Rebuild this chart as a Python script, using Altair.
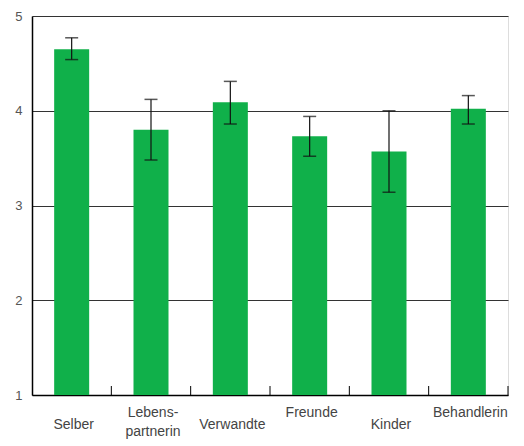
import altair as alt
import pandas as pd

categories = ["Selber", "Lebens-partnerin", "Verwandte", "Freunde", "Kinder", "Behandlerin"]
labels = ["Selber", "Lebens-\npartnerin", "Verwandte", "Freunde", "Kinder", "Behandlerin"]
upper_row = ["Lebens-partnerin", "Freunde", "Behandlerin"]
means = [4.65, 3.80, 4.09, 3.73, 3.57, 4.02]
lower = [4.54, 3.48, 3.86, 3.52, 3.14, 3.86]
upper = [4.77, 4.12, 4.31, 3.94, 4.00, 4.16]

df = pd.DataFrame({"cat": categories, "label": labels, "mean": means,
                   "lo": lower, "hi": upper,
                   "row": ["up" if c in upper_row else "down" for c in categories]})

W, H = 476, 379
xs = alt.Scale(domain=categories, paddingInner=0, paddingOuter=0)
ys = alt.Scale(domain=[1, 5], nice=False, zero=False)

base = alt.Chart(df)

bars = base.mark_bar(color="#10b04a", size=35).encode(
    x=alt.X("cat:N", scale=xs, sort=categories, title=None,
            axis=alt.Axis(labels=False, ticks=False, domain=True,
                          domainColor="#000", domainWidth=1.5)),
    y=alt.Y("mean:Q", scale=ys, title=None,
            axis=alt.Axis(values=[1, 2, 3, 4, 5], tickCount=5, ticks=False,
                          labelPadding=10, labelFontSize=13, labelColor="#555",
                          labelFont="Liberation Sans", grid=True,
                          gridColor="#333", gridWidth=1,
                          domainColor="#000", domainWidth=1.5)),
    y2=alt.datum(1),
)

err = base.mark_rule(color="#111", strokeWidth=1.2).encode(
    x=alt.X("cat:N", scale=xs, sort=categories),
    y=alt.Y("lo:Q", scale=ys),
    y2="hi:Q",
)
cap_hi = base.mark_tick(color="#111", thickness=1.5, size=13, orient="horizontal").encode(
    x=alt.X("cat:N", scale=xs, sort=categories),
    y=alt.Y("hi:Q", scale=ys),
)
cap_lo = base.mark_tick(color="#111", thickness=1.5, size=13, orient="horizontal").encode(
    x=alt.X("cat:N", scale=xs, sort=categories),
    y=alt.Y("lo:Q", scale=ys),
)

xticks = base.mark_rule(color="#000", strokeWidth=1).encode(
    x=alt.X("cat:N", scale=xs, sort=categories, bandPosition=1),
    y=alt.value(H - 9),
    y2=alt.value(H),
)

text_style = dict(baseline="middle", align="center", fontSize=14,
                  font="Liberation Sans", color="#444",
                  lineBreak="\n", lineHeight=19, dx=2)

labels_up = base.transform_filter(alt.datum.row == "up").mark_text(**text_style).encode(
    x=alt.X("cat:N", scale=xs, sort=categories),
    y=alt.value(H + 18),
    text="label:N",
)
labels_down = base.transform_filter(alt.datum.row == "down").mark_text(**text_style).encode(
    x=alt.X("cat:N", scale=xs, sort=categories),
    y=alt.value(H + 30),
    text="label:N",
)

chart = alt.layer(bars, err, cap_hi, cap_lo, xticks, labels_up, labels_down).properties(
    width=W, height=H,
    autosize=alt.AutoSizeParams(type="none"),
    padding={"left": 24, "top": 8, "right": 8, "bottom": 51},
).configure_view(stroke=None).configure(background="white")

chart.save("out.html", embed_options={"renderer": "svg", "actions": False})
